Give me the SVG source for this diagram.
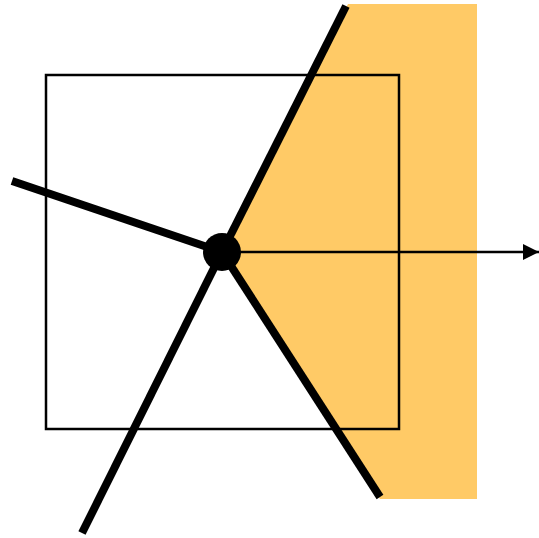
<svg xmlns="http://www.w3.org/2000/svg" width="539" height="538" viewBox="0 0 539 538">
<style>
.thick{stroke:#000;stroke-width:8;fill:none}
.thin{stroke:#000;stroke-width:2.5;fill:none}
</style>
<defs>
<marker id="ah" viewBox="0 0 16 16" refX="16" refY="8" markerWidth="16" markerHeight="16" markerUnits="userSpaceOnUse" orient="auto">
<path d="M0,0 L16,8 L0,16 Z" fill="#000"/>
</marker>
</defs>
<g id="region">
<polygon points="222,252 348,4 477,4 477,499 380,499" fill="#FFCA66"/>
</g>
<g id="square">
<rect x="46" y="75" width="353" height="354" class="thin"/>
</g>
<g id="connectors">
<line x1="222" y1="252" x2="346" y2="6" class="thick"/>
<line x1="222" y1="252" x2="12" y2="181" class="thick"/>
<line x1="222" y1="252" x2="82" y2="533" class="thick"/>
<line x1="222" y1="252" x2="380" y2="497" class="thick"/>
<line x1="222" y1="252" x2="539" y2="252" class="thin" marker-end="url(#ah)"/>
</g>
<g id="center">
<circle cx="222" cy="252" r="19" fill="#000"/>
</g>
</svg>
